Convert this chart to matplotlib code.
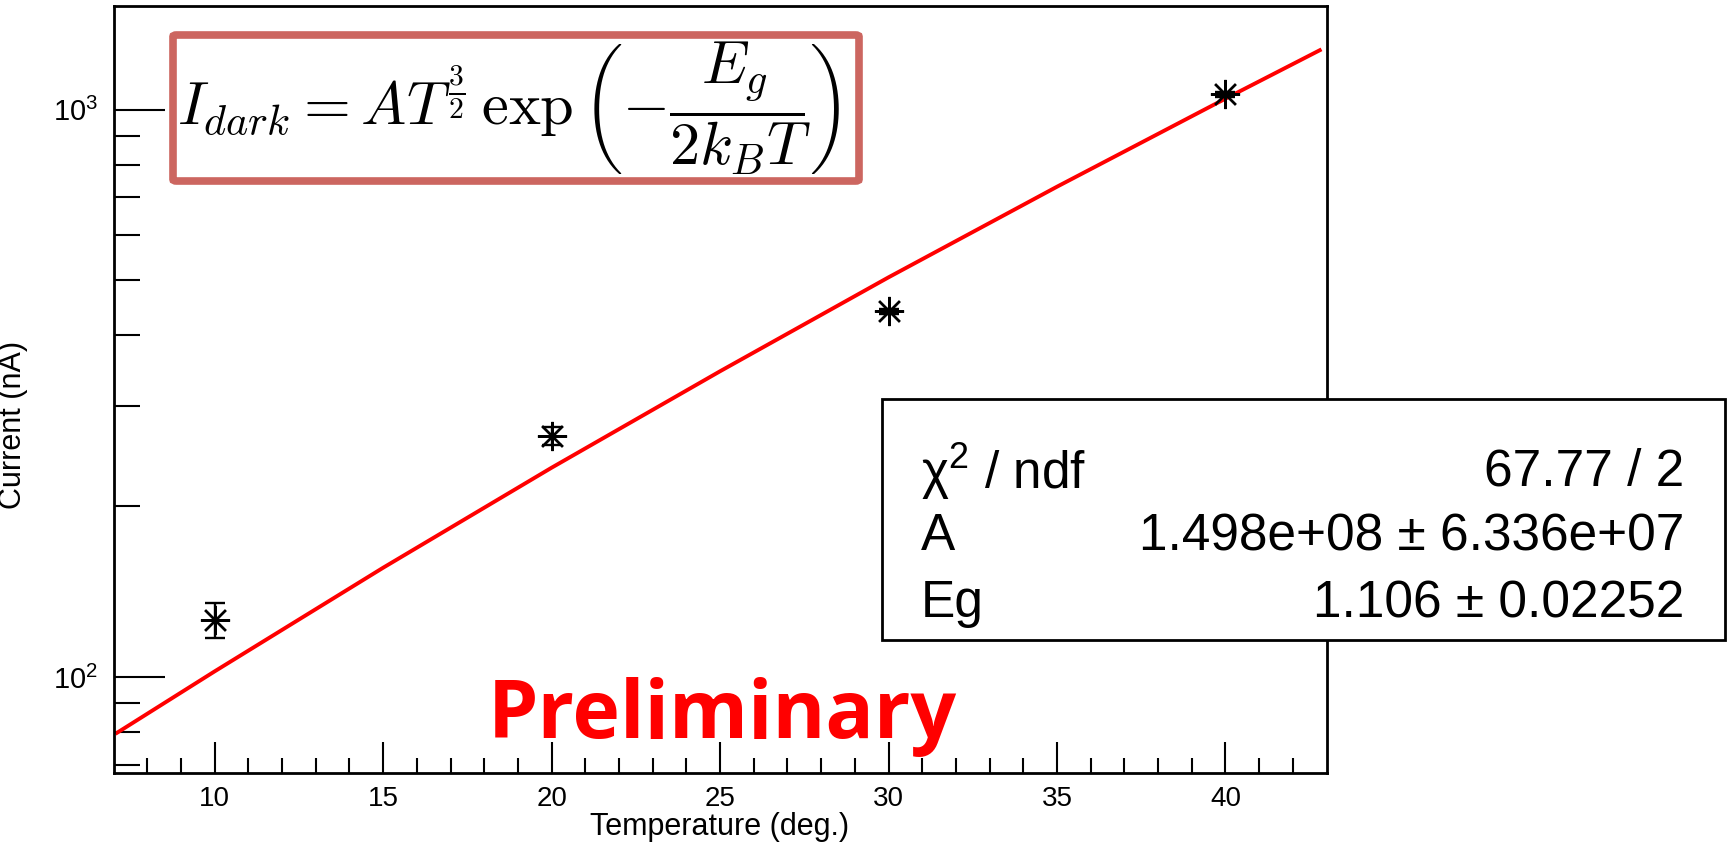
import numpy as np
import matplotlib.pyplot as plt
from matplotlib.patches import Rectangle, FancyBboxPatch
from matplotlib.ticker import FixedLocator, NullFormatter

# measured points (temperature in deg., dark current in nA)
temp = [10, 20, 30, 40]
current = [126, 266, 441, 1064]
current_err = [9, 10, 4, 10]

# fitted curve
fit_temp = [7.1, 10, 15, 20, 25, 30, 35, 40, 42.8]
fit_current = [79.8, 102.4, 155.9, 233.9, 345.9, 506.3, 731.2, 1045.1, 1272.0]

stat_names = ['\u03c7$^{2}$ / ndf', 'A', 'Eg']
stat_values = ['67.77 / 2', '1.498e+08 \u00b1 6.336e+07', '1.106 \u00b1 0.02252']

plt.rcParams['font.family'] = ['Liberation Sans', 'DejaVu Sans']
plt.rcParams['mathtext.fontset'] = 'custom'
plt.rcParams['mathtext.rm'] = 'Liberation Sans'
plt.rcParams['mathtext.it'] = 'Liberation Sans'

W, H = 1729, 844
fig = plt.figure(figsize=(W / 100, H / 100), dpi=100)
L, R, T, B = 113.6, 1326.5, 6.0, 773.0
ax = fig.add_axes([L / W, 1 - B / H, (R - L) / W, (B - T) / H])

ax.plot(fit_temp, fit_current, color='#ff0000', lw=2.8, zorder=2)
ax.errorbar(temp, current, yerr=current_err, fmt='none', ecolor='black',
            elinewidth=1.7, capsize=7, capthick=1.7, zorder=3)
ax.plot(temp, current, ls='none', marker=(8, 2, 0), ms=21, mew=1.7,
        color='black', zorder=4)

ax.set_yscale('log')
ax.set_xlim(7, 43)
ax.set_ylim(67.8, 1522)

ax.xaxis.set_major_locator(FixedLocator([10, 15, 20, 25, 30, 35, 40]))
ax.xaxis.set_minor_locator(FixedLocator(np.arange(8, 43, 1)))
ax.yaxis.set_major_locator(FixedLocator([100, 1000]))
minor_y = [70, 80, 90, 200, 300, 400, 500, 600, 700, 800, 900]
ax.yaxis.set_minor_locator(FixedLocator(minor_y))
ax.yaxis.set_minor_formatter(NullFormatter())
ax.set_yticklabels(['$10^{2}$', '$10^{3}$'])

ax.tick_params(axis='x', which='major', direction='in', length=22, width=1.5,
               labelsize=20, pad=9)
ax.tick_params(axis='x', which='minor', direction='in', length=11, width=1.5)
ax.tick_params(axis='y', which='major', direction='in', length=37, width=1.5,
               labelsize=21, pad=11)
ax.tick_params(axis='y', which='minor', direction='in', length=19, width=1.5)
for s in ax.spines.values():
    s.set_linewidth(2)

ax.set_xlabel('Temperature (deg.)', fontsize=22, labelpad=0)
ax.set_ylabel('Current (nA)', fontsize=22)
ax.yaxis.set_label_coords(-(L - 28) / (R - L), (B - 425) / (B - T))

# formula box
fig.patches.append(FancyBboxPatch((173 / W, 1 - 181 / H), 686 / W, 146 / H,
                                  boxstyle='round,pad=0,rounding_size=0.002',
                                  transform=fig.transFigure, fill=False,
                                  edgecolor='#cc6660', lw=5.5, zorder=5))
fig.text(509 / W, 1 - 108 / H,
         r'$I_{dark} = AT^{\frac{3}{2}}\,\exp\left(-\dfrac{E_g}{2k_BT}\right)$',
         fontsize=43.5, ha='center', va='center', math_fontfamily='cm', zorder=6)

# fit statistics box
fig.patches.append(Rectangle((882 / W, 1 - 640 / H), 843 / W, 241 / H,
                             transform=fig.transFigure, facecolor='white',
                             edgecolor='black', lw=2, zorder=5))
row_y = [472, 537, 604]
for name, val, yy in zip(stat_names, stat_values, row_y):
    fig.text(921 / W, 1 - yy / H, name, fontsize=37, ha='left', va='center', zorder=6)
    fig.text(1684 / W, 1 - yy / H, val, fontsize=37, ha='right', va='center', zorder=6)

fig.text(722 / W, 1 - 738 / H, 'Preliminary', color='#ff0000', fontsize=58,
         fontweight='bold', family='Open Sans', ha='center', va='baseline', zorder=6)

fig.savefig('out.png', dpi=100)
